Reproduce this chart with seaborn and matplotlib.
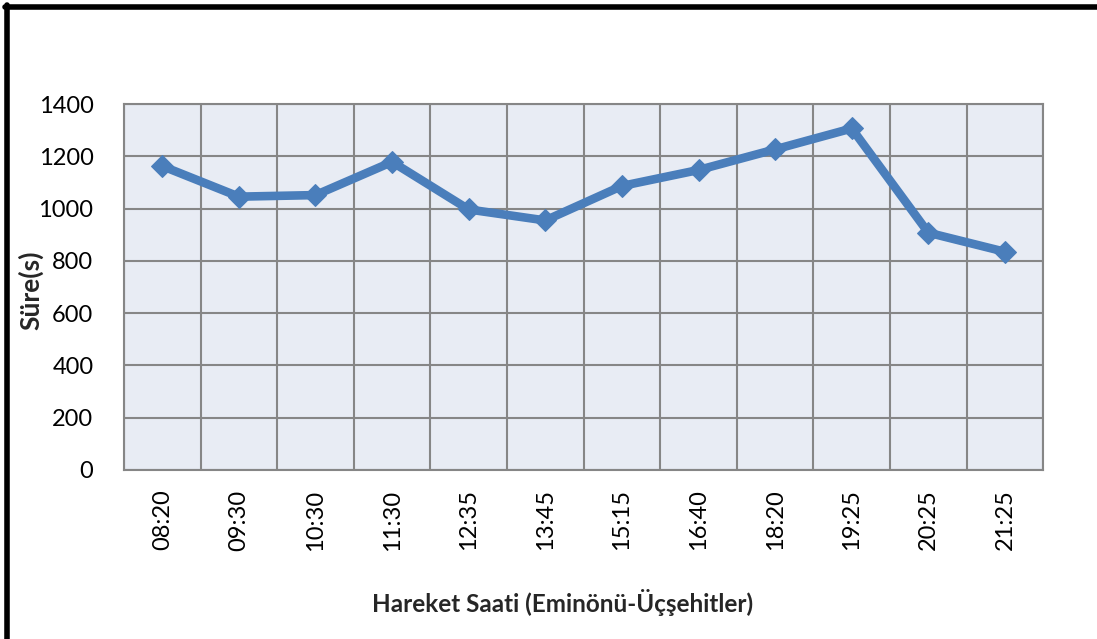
import numpy as np
import pandas as pd
import matplotlib
matplotlib.use("Agg")
import matplotlib.pyplot as plt
import seaborn as sns

sns.set_theme(style="white")
plt.rcParams['font.family'] = ['Lato', 'DejaVu Sans']

# data
saatler = ['08:20', '09:30', '10:30', '11:30', '12:35', '13:45',
           '15:15', '16:40', '18:20', '19:25', '20:25', '21:25']
sure = [1163, 1046, 1052, 1179, 997, 955, 1087, 1148, 1227, 1307, 908, 835]
y_ticks = [0, 200, 400, 600, 800, 1000, 1200, 1400]

df = pd.DataFrame({'Saat': saatler, 'Sure': sure})

fig = plt.figure(figsize=(10.97, 6.39), dpi=100)
ax = fig.add_axes([0.113, 0.2645, 0.838, 0.5725])

sns.lineplot(data=df, x='Saat', y='Sure', sort=False, ax=ax,
             color='#4A7EBB', linewidth=6.2, marker='D', markersize=11.5,
             markeredgecolor='#4A7EBB', errorbar=None)

ax.set_facecolor('#E8ECF4')
ax.set_ylim(0, 1400)
ax.set_yticks(y_ticks)
ax.set_xlim(-0.5, len(saatler) - 0.5)
ax.set_xticks(range(len(saatler)))
ax.set_xticklabels(saatler, rotation=90)
ax.set_xticks(np.arange(-0.5, len(saatler), 1), minor=True)

ax.grid(False)
ax.yaxis.grid(True, color='#868686', linewidth=1.5)
ax.xaxis.grid(True, which='minor', color='#868686', linewidth=1.5)
ax.set_axisbelow(True)
for s in ax.spines.values():
    s.set_color('#868686')
    s.set_linewidth(1.5)

ax.tick_params(axis='both', which='both', length=0, labelsize=17, colors='black')
ax.tick_params(axis='y', pad=22)
ax.tick_params(axis='x', pad=14)

ax.set_ylabel('Süre(s)', fontsize=19, fontweight='bold')
ax.yaxis.set_label_coords(-0.088, 0.49)
ax.set_xlabel('Hareket Saati (Eminönü-Üçşehitler)', fontsize=17.5, fontweight='bold')
ax.xaxis.set_label_coords(0.477, -0.325)

# black frame on left and top like the original screenshot
fig.add_artist(plt.Line2D([0.0068, 0.0068], [0, 0.9922], transform=fig.transFigure,
                          color='black', linewidth=4))
fig.add_artist(plt.Line2D([0.0046, 1.0], [0.9883, 0.9883], transform=fig.transFigure,
                          color='black', linewidth=4))

fig.savefig('out.png', dpi=100, facecolor='white')
